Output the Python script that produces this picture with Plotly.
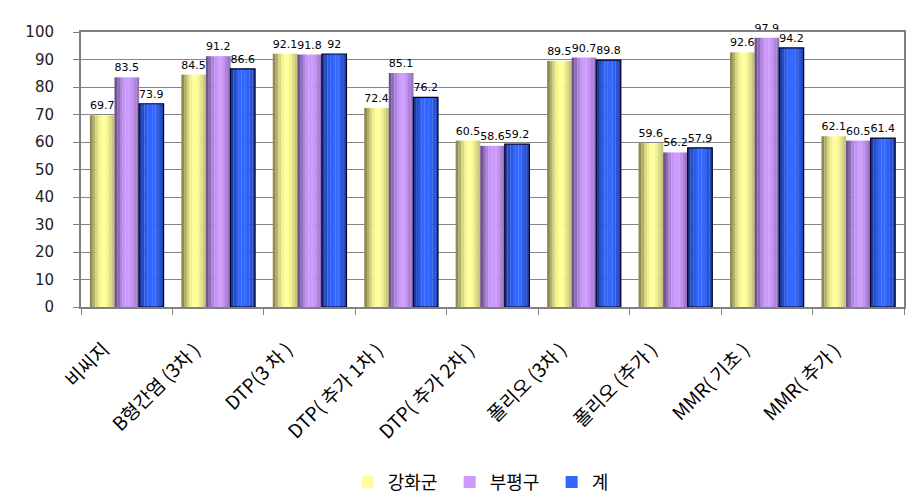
import plotly.graph_objects as go

categories = ["비씨지", "B형간염 (3차 )", "DTP(3 차 )", "DTP( 추가 1차 )", "DTP( 추가 2차 )",
              "폴리오 (3차 )", "폴리오 (추가 )", "MMR( 기초 )", "MMR( 추가 )"]
ganghwa = [69.7, 84.5, 92.1, 72.4, 60.5, 89.5, 59.6, 92.6, 62.1]
bupyeong = [83.5, 91.2, 91.8, 85.1, 58.6, 90.7, 56.2, 97.9, 60.5]
total = [73.9, 86.6, 92.0, 76.2, 59.2, 89.8, 57.9, 94.2, 61.4]
series_names = ["강화군", "부평구", "계"]
y_ticks = [0, 10, 20, 30, 40, 50, 60, 70, 80, 90, 100]

series_values = [ganghwa, bupyeong, total]
profiles = [
    ["#8e8c52", "#b2b06a", "#d8d782", "#f2f192", "#ffff99", "#ffff9c", "#f4f392", "#dedd85", "#c8c778"],
    ["#6f5392", "#8f6cb8", "#ae85dc", "#c494f4", "#cc99ff", "#cd9cff", "#c291f2", "#ae83da", "#9a74c2"],
    ["#1c3c9c", "#244cc4", "#2c5ae6", "#3264fa", "#3366ff", "#3468ff", "#3060f2", "#2a54d8", "#2346b8"],
]
outlines = ["rgba(0,0,0,0)", "rgba(0,0,0,0)", "#000022"]

g0 = -0.403
bw = 0.2687
K = len(profiles[0])

fig = go.Figure()
for s, (name, vals) in enumerate(zip(series_names, series_values)):
    prof = profiles[s]
    for k, col in enumerate(prof):
        fig.add_trace(go.Bar(
            x=categories, y=vals, name=name,
            marker=dict(color=col, line=dict(width=0)),
            width=bw / K + 0.002, offset=g0 + s * bw + k * bw / K,
            showlegend=(k == 4), legendgroup=name, hoverinfo="skip",
        ))
    fig.add_trace(go.Bar(
        x=categories, y=vals, name=name,
        marker=dict(color="rgba(0,0,0,0)", line=dict(width=1.2, color=outlines[s])),
        width=bw, offset=g0 + s * bw,
        showlegend=False, legendgroup=name,
        text=[f"{v:g}" for v in vals], textposition="outside",
        textfont=dict(family="DejaVu Sans", size=11, color="#000000"),
        cliponaxis=False,
    ))

# category labels as rotated text under the axis
for c in categories:
    fig.add_annotation(
        x=c, y=0, xref="x", yref="y", text=c, showarrow=False,
        textangle=-45, xanchor="right", yanchor="top", xshift=-10, yshift=-26,
        font=dict(family="Noto Sans CJK KR", size=19, color="#000000"),
    )

fig.update_layout(
    width=910, height=495,
    barmode="overlay",
    paper_bgcolor="white", plot_bgcolor="white",
    margin=dict(l=73, r=14, t=24, b=196, autoexpand=False),
    font=dict(family="DejaVu Sans", color="#000000"),
    legend=dict(orientation="h", x=0.324, xanchor="left", yref="container", y=0.042, yanchor="middle",
                font=dict(family="Noto Sans CJK KR", size=18), itemwidth=30, entrywidth=57,
                traceorder="normal"),
)
fig.update_xaxes(
    type="category", range=[-0.5, len(categories) - 0.5], autorange=False,
    ticks="outside", tickson="boundaries", ticklen=6, showticklabels=False,
    tickcolor="#808080", showline=True, linecolor="#808080", linewidth=1.5, mirror=True,
    showgrid=False, automargin=False,
)
fig.update_yaxes(
    range=[0, 100], autorange=False, tickvals=y_ticks, ticks="outside", ticklen=6, tickcolor="#808080",
    showline=True, linecolor="#808080", linewidth=2, mirror=True,
    showgrid=True, gridcolor="#868686", gridwidth=1, zeroline=False,
    tickfont=dict(family="DejaVu Sans", size=15, color="#222222"), ticklabelstandoff=16,
    automargin=False,
)

fig.write_html("out.html")
